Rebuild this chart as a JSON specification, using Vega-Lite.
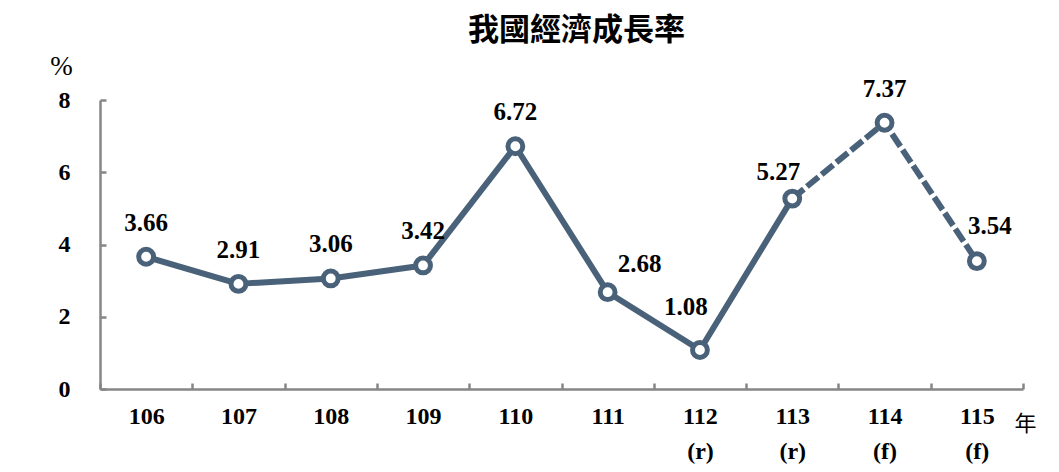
{
  "$schema": "https://vega.github.io/schema/vega-lite/v6.json",
  "width": 923,
  "height": 289,
  "autosize": "none",
  "padding": {"left": 100, "top": 100, "right": 36, "bottom": 83},
  "background": "white",
  "title": {
    "text": "我國經濟成長率",
    "font": "Noto Sans CJK TC",
    "fontSize": 31,
    "fontWeight": "bold",
    "color": "#000000",
    "anchor": "middle",
    "dx": 15,
    "offset": 5
  },
  "data": {
    "values": [
      {"year": "106", "n": 106, "g": 3.66},
      {"year": "107", "n": 107, "g": 2.91},
      {"year": "108", "n": 108, "g": 3.06},
      {"year": "109", "n": 109, "g": 3.42},
      {"year": "110", "n": 110, "g": 6.72},
      {"year": "111", "n": 111, "g": 2.68},
      {"year": "112 (r)", "n": 112, "g": 1.08},
      {"year": "113 (r)", "n": 113, "g": 5.27},
      {"year": "114 (f)", "n": 114, "g": 7.37},
      {"year": "115 (f)", "n": 115, "g": 3.54}
    ]
  },
  "encoding": {
    "x": {
      "field": "year",
      "type": "ordinal",
      "sort": null,
      "scale": {"paddingInner": 0, "paddingOuter": 0},
      "axis": {
        "title": "年",
        "titleFont": "Noto Sans CJK TC",
        "titleFontSize": 22,
        "titleFontWeight": "normal",
        "titleColor": "#000000",
        "titleAngle": 0,
        "titleAlign": "center",
        "titleBaseline": "middle",
        "titleX": 925,
        "titleY": 34,
        "labelAngle": 0,
        "labelFont": "Liberation Serif",
        "labelFontWeight": "bold",
        "labelFontSize": 24,
        "labelColor": "#000000",
        "labelExpr": "split(datum.label, ' ')",
        "labelLineHeight": 35,
        "labelBaseline": "top",
        "labelPadding": 21,
        "tickBand": "extent",
        "tickSize": -6,
        "tickColor": "#868686",
        "tickWidth": 2.5,
        "domainColor": "#868686",
        "domainWidth": 2.5,
        "grid": false
      }
    },
    "y": {
      "field": "g",
      "type": "quantitative",
      "scale": {"domain": [0, 8]},
      "axis": {
        "values": [0, 2, 4, 6, 8],
        "title": "%",
        "titleFont": "Liberation Serif",
        "titleFontSize": 27,
        "titleFontWeight": "normal",
        "titleColor": "#000000",
        "titleAngle": 0,
        "titleAlign": "center",
        "titleBaseline": "middle",
        "titleX": -39,
        "titleY": -34,
        "labelFont": "Liberation Serif",
        "labelFontWeight": "bold",
        "labelFontSize": 24,
        "labelColor": "#000000",
        "labelPadding": 36,
        "tickSize": -6,
        "tickColor": "#868686",
        "tickWidth": 2.5,
        "domainColor": "#868686",
        "domainWidth": 2.5,
        "grid": false
      }
    }
  },
  "layer": [
    {
      "transform": [{"filter": "datum.n <= 113"}],
      "mark": {"type": "line", "color": "#4a6279", "strokeWidth": 6, "strokeJoin": "round"}
    },
    {
      "transform": [{"filter": "datum.n >= 113"}],
      "mark": {"type": "line", "color": "#4a6279", "strokeWidth": 6, "strokeDash": [15, 4], "strokeJoin": "round"}
    },
    {
      "mark": {"type": "point", "shape": "circle", "size": 220, "filled": true, "fill": "white", "stroke": "#4a6279", "strokeWidth": 5, "opacity": 1}
    },
    {
      "transform": [{"filter": "datum.n <= 110 || datum.n == 114"}],
      "mark": {"type": "text", "font": "Liberation Serif", "fontWeight": "bold", "fontSize": 25, "color": "#000000", "baseline": "middle", "dy": -34},
      "encoding": {"text": {"field": "g", "type": "quantitative", "format": ".2f"}}
    },
    {
      "transform": [{"filter": "datum.n == 111"}],
      "mark": {"type": "text", "font": "Liberation Serif", "fontWeight": "bold", "fontSize": 25, "color": "#000000", "baseline": "middle", "dx": 32, "dy": -28},
      "encoding": {"text": {"field": "g", "type": "quantitative", "format": ".2f"}}
    },
    {
      "transform": [{"filter": "datum.n == 112"}],
      "mark": {"type": "text", "font": "Liberation Serif", "fontWeight": "bold", "fontSize": 25, "color": "#000000", "baseline": "middle", "dx": -14, "dy": -43},
      "encoding": {"text": {"field": "g", "type": "quantitative", "format": ".2f"}}
    },
    {
      "transform": [{"filter": "datum.n == 113"}],
      "mark": {"type": "text", "font": "Liberation Serif", "fontWeight": "bold", "fontSize": 25, "color": "#000000", "baseline": "middle", "dx": -14, "dy": -27},
      "encoding": {"text": {"field": "g", "type": "quantitative", "format": ".2f"}}
    },
    {
      "transform": [{"filter": "datum.n == 115"}],
      "mark": {"type": "text", "font": "Liberation Serif", "fontWeight": "bold", "fontSize": 25, "color": "#000000", "baseline": "middle", "dx": 13, "dy": -35},
      "encoding": {"text": {"field": "g", "type": "quantitative", "format": ".2f"}}
    }
  ],
  "config": {"view": {"stroke": null}}
}
